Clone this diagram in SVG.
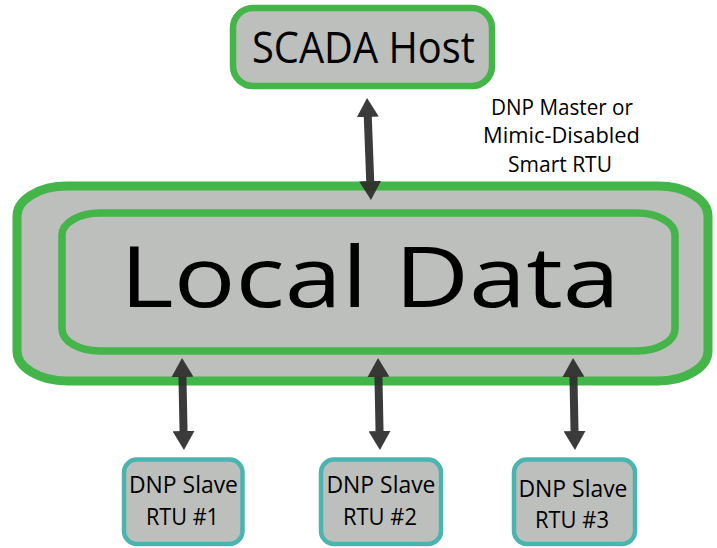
<svg xmlns="http://www.w3.org/2000/svg" width="717" height="548" viewBox="0 0 717 548">
  <style>
    .box { fill: #bcbfbb; }
    .green { stroke: #43b549; }
    .teal { stroke: #4ab4b1; stroke-width: 4.5; }
    text { font-family: "Open Sans", "Noto Sans", "Liberation Sans", sans-serif; fill: #000; text-anchor: middle; }
    .conn { stroke: #2d2d2d; stroke-width: 8; fill: none; opacity: 0.93; marker-start: url(#head); marker-end: url(#head); }
  </style>
  <defs>
    <marker id="head" viewBox="0 0 19 22" markerUnits="userSpaceOnUse" markerWidth="19" markerHeight="22" refX="2" refY="11" orient="auto-start-reverse">
      <path d="M0,0 L19,11 L0,22 z" fill="#2d2d2d"/>
    </marker>
  </defs>

  <rect width="717" height="548" fill="#ffffff"/>

  <!-- SCADA host -->
  <g id="scada-host">
    <rect class="box green" x="233" y="8" width="259" height="78" rx="20" ry="20" stroke-width="6.5"/>
    <text x="363.5" y="63" font-size="43" textLength="223" lengthAdjust="spacingAndGlyphs">SCADA Host</text>
  </g>

  <!-- annotation beside the host link -->
  <g id="master-note" font-size="21">
    <text x="562" y="115" textLength="142" lengthAdjust="spacingAndGlyphs">DNP Master or</text>
    <text x="561.5" y="143" textLength="157" lengthAdjust="spacingAndGlyphs">Mimic-Disabled</text>
    <text x="560" y="172" textLength="104" lengthAdjust="spacingAndGlyphs">Smart RTU</text>
  </g>

  <!-- local data store: outer and inner frames -->
  <g id="local-data">
    <rect class="box green" x="17" y="186" width="691" height="195" rx="50" ry="30" stroke-width="9"/>
    <rect class="box green" x="62" y="213" width="613" height="138" rx="38" ry="22" stroke-width="7.5"/>
    <text x="370" y="307" font-size="84" textLength="500" lengthAdjust="spacingAndGlyphs">Local Data</text>
  </g>

  <!-- slave RTUs -->
  <g id="rtu-1">
    <rect class="box teal" x="124" y="459.5" width="118.5" height="84.5" rx="13" ry="13"/>
    <text x="183.5" y="493" font-size="24" textLength="109" lengthAdjust="spacingAndGlyphs">DNP Slave</text>
    <text x="182.5" y="525" font-size="24" textLength="73" lengthAdjust="spacingAndGlyphs">RTU #1</text>
  </g>
  <g id="rtu-2">
    <rect class="box teal" x="321" y="459.5" width="120" height="84.5" rx="13" ry="13"/>
    <text x="381" y="493" font-size="24" textLength="109" lengthAdjust="spacingAndGlyphs">DNP Slave</text>
    <text x="380" y="525" font-size="24" textLength="74" lengthAdjust="spacingAndGlyphs">RTU #2</text>
  </g>
  <g id="rtu-3">
    <rect class="box teal" x="514" y="459.5" width="121" height="84.5" rx="13" ry="13"/>
    <text x="573" y="497" font-size="24" textLength="109" lengthAdjust="spacingAndGlyphs">DNP Slave</text>
    <text x="572" y="528" font-size="24" textLength="74" lengthAdjust="spacingAndGlyphs">RTU #3</text>
  </g>

  <!-- two-way links -->
  <g id="connectors">
    <line class="conn" x1="367.7" y1="115" x2="370.3" y2="183"/>
    <line class="conn" x1="182.4" y1="375" x2="183.6" y2="433"/>
    <line class="conn" x1="378.4" y1="375" x2="379.6" y2="433"/>
    <line class="conn" x1="573.4" y1="375" x2="574.6" y2="433"/>
  </g>
</svg>
